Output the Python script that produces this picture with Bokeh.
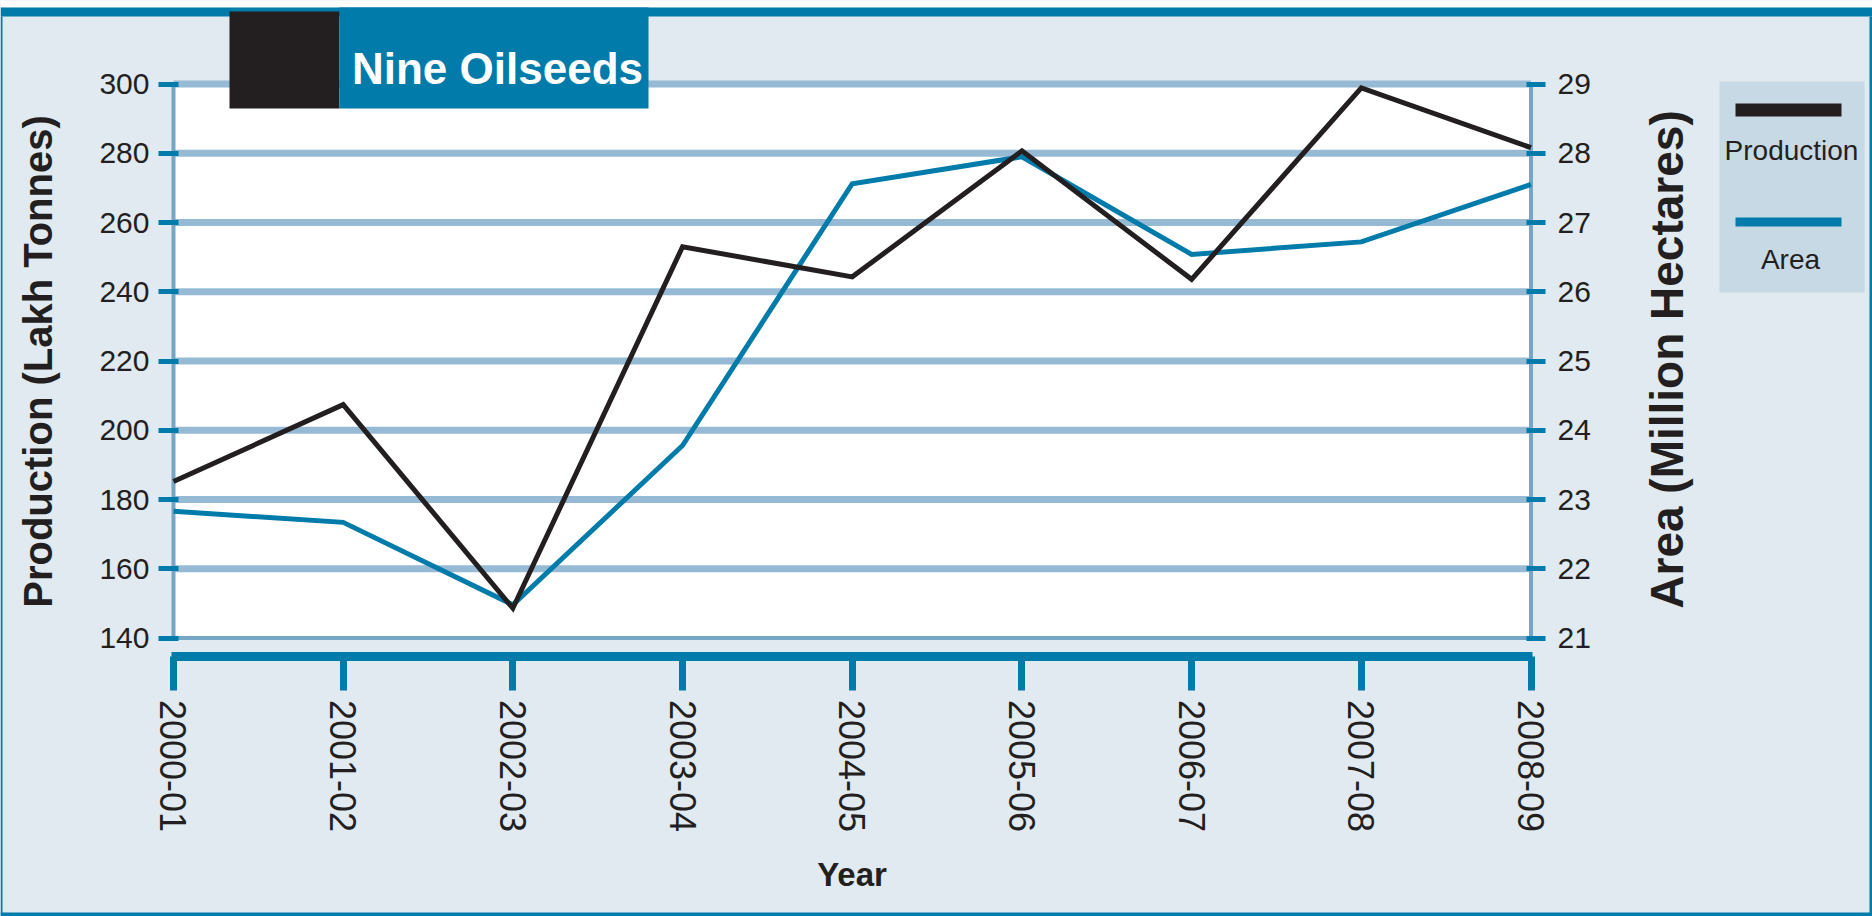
import math
from bokeh.plotting import figure
from bokeh.models import Range1d, LinearAxis, FixedTicker, BoxAnnotation, Label
from bokeh.embed import file_html
from bokeh.resources import INLINE

# ---- data ----
years = ["2000-01", "2001-02", "2002-03", "2003-04", "2004-05",
         "2005-06", "2006-07", "2007-08", "2008-09"]
production = [185.2, 207.4, 148.6, 253.0, 244.3, 280.7, 243.6, 298.9, 281.6]   # Lakh Tonnes
area = [22.83, 22.67, 21.48, 23.78, 27.56, 27.95, 26.54, 26.72, 27.55]          # Million Hectares
prod_ticks = [140, 160, 180, 200, 220, 240, 260, 280, 300]
area_ticks = [21, 22, 23, 24, 25, 26, 27, 28, 29]

# ---- styles ----
BG = "#e1e9f1"
BLUE = "#007baa"
DARK = "#231f20"
GRID = "#97bad4"
EDGE = "#75a6c6"
LEG_BG = "#c8d9e6"
SANS = "Liberation Sans"

W, H = 1872, 916

idx = list(range(len(years)))
last = len(years) - 1

# the frame covers the whole canvas; axes are pinned with fixed_location
x_start, x_end = -1.0195, last + 2.0125
y_start, y_end = 59.57, 324.12
a_start = area_ticks[0] + (y_start - prod_ticks[0]) / 20.0
a_end = area_ticks[0] + (y_end - prod_ticks[0]) / 20.0

p = figure(width=W, height=H, output_backend="svg", toolbar_location=None, title=None,
           x_range=Range1d(x_start, x_end), y_range=Range1d(y_start, y_end),
           min_border=0)
p.background_fill_color = BG
p.border_fill_color = BG
p.outline_line_color = None
p.xgrid.visible = False
p.ygrid.visible = False

p.extra_y_ranges = {"area": Range1d(a_start, a_end)}

x_left_edge = idx[0] - 0.0118
x_right_edge = last + 0.0147
x_axis_y = prod_ticks[0] - 5.2

# x axis
xa = p.xaxis[0]
xa.fixed_location = x_axis_y
xa.bounds = (x_left_edge, last + 0.009)
xa.ticker = FixedTicker(ticks=idx)
xa.major_label_overrides = {i: y for i, y in zip(idx, years)}
xa.major_label_orientation = "vertical"
xa.axis_line_color = BLUE
xa.axis_line_width = 9
xa.major_tick_line_color = BLUE
xa.major_tick_line_width = 7
xa.major_tick_in = 0
xa.major_tick_out = 34
xa.minor_tick_line_color = None
xa.major_label_standoff = 10
xa.major_label_text_font = SANS
xa.major_label_text_font_size = "36px"
xa.major_label_text_color = DARK
xa.axis_label = "Year"
xa.axis_label_text_font = SANS
xa.axis_label_text_font_style = "bold"
xa.axis_label_text_font_size = "33px"
xa.axis_label_text_color = DARK
xa.axis_label_standoff = 20

# left y axis
ya = p.yaxis[0]
ya.fixed_location = x_left_edge
ya.bounds = (prod_ticks[0], prod_ticks[-1])
ya.ticker = FixedTicker(ticks=prod_ticks)
ya.axis_line_color = None
ya.major_tick_line_color = BLUE
ya.major_tick_line_width = 5
ya.major_tick_in = 7
ya.major_tick_out = 13
ya.minor_tick_line_color = None
ya.major_label_standoff = 9
ya.major_label_text_font = SANS
ya.major_label_text_font_size = "30px"
ya.major_label_text_color = DARK
ya.axis_label = "Production (Lakh Tonnes)"
ya.axis_label_text_font = SANS
ya.axis_label_text_font_style = "bold"
ya.axis_label_text_font_size = "40px"
ya.axis_label_text_color = DARK
ya.axis_label_standoff = 36

# right y axis
ra = LinearAxis(y_range_name="area", ticker=FixedTicker(ticks=area_ticks),
                fixed_location=x_right_edge, bounds=(area_ticks[0], area_ticks[-1]))
ra.axis_line_color = None
ra.major_tick_line_color = BLUE
ra.major_tick_line_width = 5
ra.major_tick_in = 7
ra.major_tick_out = 12
ra.minor_tick_line_color = None
ra.major_label_standoff = 12
ra.major_label_text_font = SANS
ra.major_label_text_font_size = "30px"
ra.major_label_text_color = DARK
p.add_layout(ra, "right")

# plot area, grid lines and edges
p.quad(left=[idx[0]], right=[last], bottom=[prod_ticks[0]], top=[prod_ticks[-1]],
       fill_color="white", line_color=None)
p.segment(x0=[idx[0]] * (len(prod_ticks) - 1), x1=[last] * (len(prod_ticks) - 1),
          y0=prod_ticks[1:], y1=prod_ticks[1:], line_color=GRID, line_width=7)
p.line(x=[idx[0], idx[0], last, last], y=[prod_ticks[-1], prod_ticks[0], prod_ticks[0], prod_ticks[-1]],
       line_color=EDGE, line_width=4)

# data lines
p.line(x=idx, y=area, y_range_name="area", line_color=BLUE, line_width=5, line_join="miter")
p.line(x=idx, y=production, line_color=DARK, line_width=5, line_join="miter")


# ---- decorations: canvas pixel boxes / labels (frame == canvas, y measured upward) ----
def box(x0, x1, y0, y1, color):
    b = BoxAnnotation(left=x0, right=x1, top=H - y0, bottom=H - y1,
                      left_units="screen", right_units="screen",
                      top_units="screen", bottom_units="screen",
                      fill_color=color, fill_alpha=1.0, line_color=None)
    p.add_layout(b)


def label(x, y, text, **kw):
    p.add_layout(Label(x=x, y=H - y, x_units="screen", y_units="screen", text=text, **kw))


box(0, W, 0, 7, "white")
box(0, W, 7, 16, BLUE)
box(0, 2, 16, H, BLUE)
box(W - 3, W, 16, H, BLUE)
box(0, W, H - 4, H, BLUE)

# title block
box(229, 339, 11, 108, DARK)
box(339, 648, 7, 108, BLUE)
label(497, 68, "Nine Oilseeds", text_font=SANS, text_font_style="bold",
      text_font_size="44px", text_color="white", text_align="center",
      text_baseline="alphabetic")

# legend
box(1719, 1864, 81, 292, LEG_BG)
box(1735, 1841, 103, 116, DARK)
label(1791, 150, "Production", text_font=SANS, text_font_size="28px",
      text_color=DARK, text_align="center", text_baseline="alphabetic")
box(1735, 1841, 217, 226, BLUE)
label(1790, 259, "Area", text_font=SANS, text_font_size="28px",
      text_color=DARK, text_align="center", text_baseline="alphabetic")

# right axis title (reads bottom to top)
label(1666, 359, "Area (Million Hectares)", text_font=SANS, text_font_style="bold",
      text_font_size="46px", text_color=DARK, text_align="center",
      text_baseline="middle", angle=math.pi / 2)

open("out.html", "w").write(file_html(p, INLINE))
